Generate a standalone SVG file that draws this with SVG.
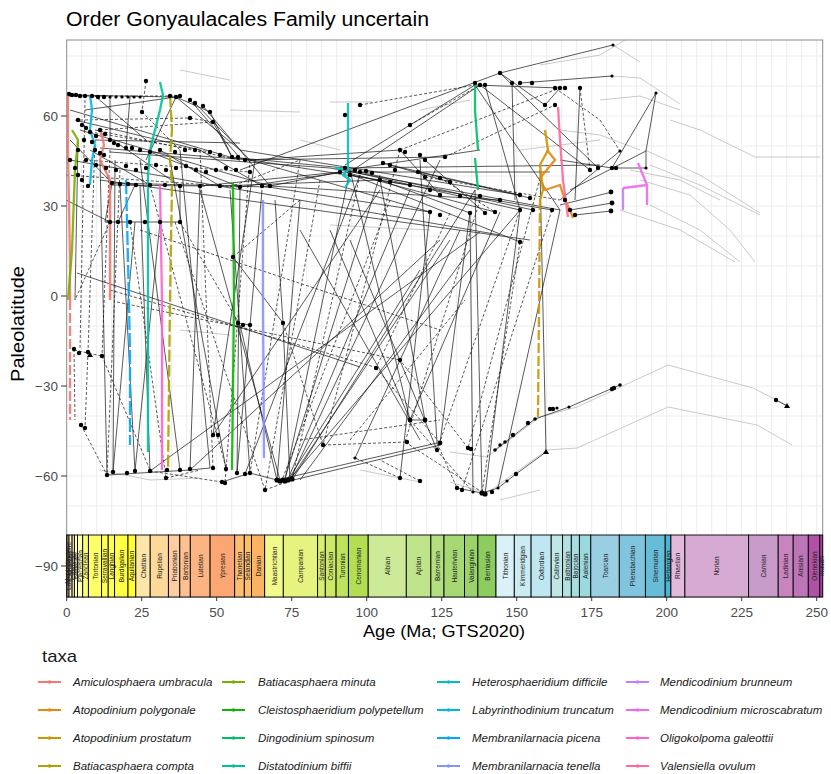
<svg xmlns="http://www.w3.org/2000/svg" width="831" height="774" viewBox="0 0 831 774">
<style>
text{font-family:"Liberation Sans",Arial,sans-serif}
.grid line{stroke:#ebebeb;stroke-width:0.9}
.s{fill:none;stroke:#111;stroke-width:0.85;stroke-opacity:0.82}
.d{fill:none;stroke:#111;stroke-width:0.85;stroke-opacity:0.82;stroke-dasharray:3 2}
.g{fill:none;stroke:#bdbdbd;stroke-width:0.8}
.pt circle{fill:#000}
.tx{fill:none;stroke-width:2.3;stroke-linejoin:round;stroke-opacity:0.9}
.st rect{stroke:#000;stroke-width:0.9}
.st text{font-size:6.5px;fill:#222;text-anchor:middle;dominant-baseline:central}
.ax{font-size:13.5px;fill:#4d4d4d}
.leg text{font-size:11.5px;font-style:italic;fill:#1a1a1a}
.leg line{stroke-width:2}
</style>
<rect width="831" height="774" fill="#fff"/>
<text x="66" y="26" font-size="20" textLength="363" lengthAdjust="spacingAndGlyphs" fill="#000">Order Gonyaulacales Family uncertain</text>

<g id="grid" class="grid">
<line x1="66.7" y1="56" x2="822.7" y2="56"/><line x1="66.7" y1="86" x2="822.7" y2="86"/><line x1="66.7" y1="116" x2="822.7" y2="116"/><line x1="66.7" y1="146" x2="822.7" y2="146"/><line x1="66.7" y1="176" x2="822.7" y2="176"/><line x1="66.7" y1="206" x2="822.7" y2="206"/><line x1="66.7" y1="236" x2="822.7" y2="236"/><line x1="66.7" y1="266" x2="822.7" y2="266"/><line x1="66.7" y1="296" x2="822.7" y2="296"/><line x1="66.7" y1="326" x2="822.7" y2="326"/><line x1="66.7" y1="356" x2="822.7" y2="356"/><line x1="66.7" y1="386" x2="822.7" y2="386"/><line x1="66.7" y1="416" x2="822.7" y2="416"/><line x1="66.7" y1="446" x2="822.7" y2="446"/><line x1="66.7" y1="476" x2="822.7" y2="476"/><line x1="66.7" y1="506" x2="822.7" y2="506"/>
<line x1="81.7" y1="40" x2="81.7" y2="535"/><line x1="96.7" y1="40" x2="96.7" y2="535"/><line x1="111.7" y1="40" x2="111.7" y2="535"/><line x1="126.7" y1="40" x2="126.7" y2="535"/><line x1="141.7" y1="40" x2="141.7" y2="535"/><line x1="156.7" y1="40" x2="156.7" y2="535"/><line x1="171.7" y1="40" x2="171.7" y2="535"/><line x1="186.7" y1="40" x2="186.7" y2="535"/><line x1="201.7" y1="40" x2="201.7" y2="535"/><line x1="216.7" y1="40" x2="216.7" y2="535"/><line x1="231.7" y1="40" x2="231.7" y2="535"/><line x1="246.7" y1="40" x2="246.7" y2="535"/><line x1="261.7" y1="40" x2="261.7" y2="535"/><line x1="276.7" y1="40" x2="276.7" y2="535"/><line x1="291.7" y1="40" x2="291.7" y2="535"/><line x1="306.7" y1="40" x2="306.7" y2="535"/><line x1="321.7" y1="40" x2="321.7" y2="535"/><line x1="336.7" y1="40" x2="336.7" y2="535"/><line x1="351.7" y1="40" x2="351.7" y2="535"/><line x1="366.7" y1="40" x2="366.7" y2="535"/><line x1="381.7" y1="40" x2="381.7" y2="535"/><line x1="396.7" y1="40" x2="396.7" y2="535"/><line x1="411.7" y1="40" x2="411.7" y2="535"/><line x1="426.7" y1="40" x2="426.7" y2="535"/><line x1="441.7" y1="40" x2="441.7" y2="535"/><line x1="456.7" y1="40" x2="456.7" y2="535"/><line x1="471.7" y1="40" x2="471.7" y2="535"/><line x1="486.7" y1="40" x2="486.7" y2="535"/><line x1="501.7" y1="40" x2="501.7" y2="535"/><line x1="516.7" y1="40" x2="516.7" y2="535"/><line x1="531.7" y1="40" x2="531.7" y2="535"/><line x1="546.7" y1="40" x2="546.7" y2="535"/><line x1="561.7" y1="40" x2="561.7" y2="535"/><line x1="576.7" y1="40" x2="576.7" y2="535"/><line x1="591.7" y1="40" x2="591.7" y2="535"/><line x1="606.7" y1="40" x2="606.7" y2="535"/><line x1="621.7" y1="40" x2="621.7" y2="535"/><line x1="636.7" y1="40" x2="636.7" y2="535"/><line x1="651.7" y1="40" x2="651.7" y2="535"/><line x1="666.7" y1="40" x2="666.7" y2="535"/><line x1="681.7" y1="40" x2="681.7" y2="535"/><line x1="696.7" y1="40" x2="696.7" y2="535"/><line x1="711.7" y1="40" x2="711.7" y2="535"/><line x1="726.7" y1="40" x2="726.7" y2="535"/><line x1="741.7" y1="40" x2="741.7" y2="535"/><line x1="756.7" y1="40" x2="756.7" y2="535"/><line x1="771.7" y1="40" x2="771.7" y2="535"/><line x1="786.7" y1="40" x2="786.7" y2="535"/><line x1="801.7" y1="40" x2="801.7" y2="535"/><line x1="816.7" y1="40" x2="816.7" y2="535"/>
</g>

<g id="trajectories">
<path class="g" d="M613 45 L640 62 M612 76 L640 78 L680 104 M670 120 L700 130 L755 157 L820 157 M645 150 L700 175 L760 213 M650 165 L700 185 L760 215 M640 180 L690 195 L730 230 L755 262 M650 205 L700 230 L740 262 M620 210 L680 230 L735 262 M560 130 L600 135 L640 150 M630 170 L680 180 L720 200 M450 452 L487 457 L540 417 L577 407 L668 365 L753 388 L790 407 M450 482 L487 493 L547 450 L577 448 L668 407 L757 425 L792 445 M330 225 L430 230 M330 102 L372 102 M230 110 L300 112 M540 65 L600 55 L625 40 M600 100 L640 96 L680 110 M420 110 L470 100 M180 70 L230 80 M300 140 L340 150 M100 470 L150 480 L200 478 M360 470 L420 482 M500 500 L540 490 M180 330 L230 335 M520 150 L600 140"/>
</g>

<g id="connectors">
<path class="s" d="M68 95 L176 97 M68 96 L100 96 M95 140 L240 143 M100 148 L250 160 M110 152 L330 168 M112 183 L268 187 M112 185 L205 186 M105 222 L182 222 M176 97 L240 150 M176 97 L210 112 L232 157 M190 100 L240 158 M195 103 L250 160 M203 106 L270 186 M176 97 L146 160 M213 122 L232 157 M240 158 L345 168 M240 150 L520 195 M250 160 L430 212 M270 186 L340 172 M330 168 L560 210 M345 170 L520 210 M345 172 L495 212 M345 172 L550 172 M345 170 L480 150 M240 170 L500 73 M500 73 L613 45 M475 85 L345 165 M480 85 L350 172 M475 85 L560 88 M500 73 L545 105 M512 83 L515 200 M580 88 L575 200 M545 105 L560 88 M560 200 L620 151 M570 190 L646 151 M656 93 L646 151 M646 151 L646 168 M560 205 L612 192 M570 210 L612 203 M575 215 L611 211 M612 168 L646 168 M560 160 L612 168 M612 168 L656 93 M520 83 L612 76
M70 110 L240 160 M75 120 L200 150 M80 130 L270 186 M85 110 L176 97 M95 96 L146 140 M110 97 L110 140 M130 97 L126 148 M70 140 L112 183 M90 150 L150 185 M120 145 L180 186 M150 152 L240 187 M200 150 L262 186 M160 150 L220 186 M66 200 L110 222 M112 183 L105 222 M180 186 L180 222 M135 185 L118 222 M240 187 L345 172 M262 186 L430 212 M270 186 L500 200 M220 186 L380 180 M200 186 L340 172 M250 160 L400 150 M245 160 L445 157 M232 157 L410 185 M345 168 L600 165 M350 175 L552 210 M360 172 L533 210 M380 180 L470 213 M400 150 L440 195 M425 160 L485 213
M475 85 L560 210 M480 85 L590 170 M500 73 L598 168 M485 85 L520 210 M345 172 L520 242 M383 163 L450 182 M390 165 L520 195 M418 172 L530 198
M78 140 L75 300 M100 160 L107 475 M115 160 L113 472 M120 185 L135 471 M140 185 L150 471 M180 150 L210 468 M200 186 L190 470 M170 160 L226 469 M140 160 L180 470 M230 190 L250 473 M255 160 L213 435 M262 190 L237 473 M275 200 L283 323 M283 323 L290 480 M300 200 L277 480 M350 170 L285 480 M380 175 L285 478 M410 190 L288 479 M440 160 L290 480 M475 190 L292 480 M520 210 L290 479 M277 480 L240 325 M280 480 L200 190 M410 420 L350 170 M425 420 L380 180 M437 443 L420 160 M440 443 L470 212 M410 420 L500 212 M400 478 L430 212 M482 493 L475 190 M485 494 L520 210 M473 492 L470 213 M498 488 L560 210 M277 480 L437 443 M285 482 L440 445 M290 480 L450 240 M288 480 L420 270 M77 273 L360 367 M70 160 L500 235 M100 180 L530 240 M300 230 L420 440 M330 230 L410 420 M350 240 L437 450 M460 230 L355 458 M470 250 L300 480 M150 471 L480 232 M190 470 L440 240 M213 435 L380 190 M245 474 L360 175 M113 472 L135 222 M135 471 L160 222 M237 473 L240 187
M457 488 L482 493 L498 488 L516 474 L546 452 M495 450 L535 419 L569 407 L620 385 M546 452 L540 170 M776 400 L787 406 M107 475 L190 470 L210 468 M222 482 L250 473 L277 480 M238 323 L250 325 M410 420 L425 420 M283 323 L233 257"/>
<path class="d" d="M95 96 L175 96 M146 81 L142 112 M142 112 L180 150 M95 130 L240 160 M85 100 L80 350 M95 140 L88 352 M110 150 L102 356 M120 170 L107 475 M88 352 L85 428 M81 425 L107 475 M74 349 L75 420 M150 471 L222 482 M166 478 L200 470 M200 150 L213 468 M250 160 L225 483 M300 160 L250 473 M320 180 L265 490 M360 175 L292 480 M390 200 L282 480 M400 150 L323 445 M450 213 L376 368 M480 200 L405 442 M520 210 L437 450 M520 242 L482 493 M552 210 L462 490 M117 302 L400 360 M110 290 L378 368 M140 230 L440 330 M600 120 L620 151 M580 88 L590 170 M233 257 L300 200 M74 350 L102 356 M102 356 L150 470 M410 125 L480 85 M360 105 L475 85 M300 440 L440 420 M350 440 L465 300 M400 478 L355 458 M420 481 L380 460 M437 443 L457 488 M410 420 L473 492 M405 442 L485 494 M323 445 L407 442 M265 490 L292 480 M555 88 L600 120 M190 118 L213 122 M110 222 L75 300 M180 222 L240 325 M130 222 L166 478 M540 178 L468 448 M468 448 L400 360 M376 368 L440 443 M283 323 L323 445 M80 120 L190 118 M90 132 L210 152 M100 130 L213 122 M85 160 L250 172 M66 175 L240 187 M150 185 L226 468 M175 222 L265 490 M230 187 L300 160 M400 150 L560 88 M445 157 L555 105 M425 177 L560 200 M440 178 L495 212"/>
</g>

<g id="taxa-lines">
<path class="tx" stroke="#F8766D" d="M68 92 L68 150 L70 260 L70 300"/>
<path class="tx" stroke="#F8766D" stroke-dasharray="10 3" d="M70 300 L70 420"/>
<path class="tx" stroke="#F8766D" d="M100 128 L104 145 L100 160 L110 180 L110 300"/>
<path class="tx" stroke="#E68613" d="M547 150 L555 160 L540 178 L545 190 L560 185 L565 200 L570 210 L573 218"/>
<path class="tx" stroke="#CD9600" d="M545 130 L548 150 L540 165 L543 190 L540 200"/>
<path class="tx" stroke="#CD9600" stroke-dasharray="10 3" d="M540 200 L538 417"/>
<path class="tx" stroke="#ABA300" d="M170 95 L172 130 L170 160 L172 185 L170 300 L168 470" stroke-dasharray="12 3"/>
<path class="tx" stroke="#7CAE00" d="M72 130 L78 140 L75 170 L72 250 L68 300"/>
<path class="tx" stroke="#0CB702" d="M233 183 L234 300 L232 470"/>
<path class="tx" stroke="#00BE67" d="M475 83 L475 110 L478 150 M475 158 L478 190"/>
<path class="tx" stroke="#00C19A" d="M160 82 L163 95 L160 110 L155 130 L150 150 L148 175 L148 230 L148 452"/>
<path class="tx" stroke="#00BFC4" d="M348 103 L348 170 L343 175 L350 180 L345 188 M335 168 L348 170"/>
<path class="tx" stroke="#00B8E7" d="M90 95 L92 110 L90 130 L95 145 L92 160 L90 185"/>
<path class="tx" stroke="#00A9FF" d="M126 180 L128 260 L130 350 L130 445" stroke-dasharray="14 3"/>
<path class="tx" stroke="#8494FF" d="M263 200 L263 300 L264 458"/>
<path class="tx" stroke="#C77CFF" d="M623 188 L623 210"/>
<path class="tx" stroke="#ED68ED" d="M638 163 L647 185 L647 205 M623 188 L647 185"/>
<path class="tx" stroke="#FF61CC" d="M160 185 L162 300 L162 470"/>
<path class="tx" stroke="#FF68A1" d="M558 107 L560 140 L563 180 L568 217"/>
</g>

<g id="points" class="pt">
<circle cx="69" cy="94" r="2.2"/><circle cx="72" cy="95" r="2.2"/><circle cx="76" cy="95" r="2.2"/><circle cx="80" cy="96" r="2.2"/><circle cx="85" cy="96" r="2.2"/><circle cx="92" cy="96" r="2.2"/><circle cx="98" cy="97" r="2.2"/><circle cx="104" cy="97" r="2.2"/><circle cx="110" cy="97" r="1.6"/><circle cx="116" cy="97" r="1.6"/><circle cx="122" cy="97" r="1.6"/><circle cx="128" cy="97" r="1.6"/><circle cx="134" cy="97" r="1.6"/><circle cx="140" cy="97" r="1.6"/><circle cx="146" cy="81" r="2.2"/><circle cx="170" cy="96" r="2.2"/><circle cx="176" cy="97" r="2.2"/><circle cx="180" cy="96" r="2.2"/>
<circle cx="190" cy="100" r="2.2"/><circle cx="195" cy="103" r="2.2"/><circle cx="203" cy="106" r="2.2"/><circle cx="210" cy="112" r="2.2"/><circle cx="142" cy="112" r="2.2"/><circle cx="213" cy="122" r="2.2"/><circle cx="190" cy="118" r="2.2"/>
<circle cx="78" cy="120" r="2.2"/><circle cx="82" cy="125" r="2.2"/><circle cx="86" cy="128" r="2.2"/><circle cx="90" cy="132" r="2.2"/><circle cx="96" cy="136" r="2.2"/><circle cx="100" cy="130" r="2.2"/><circle cx="105" cy="134" r="2.2"/><circle cx="84" cy="140" r="2.2"/><circle cx="92" cy="142" r="2.2"/><circle cx="78" cy="150" r="2.2"/><circle cx="86" cy="160" r="2.2"/><circle cx="96" cy="165" r="2.2"/><circle cx="106" cy="168" r="2.2"/><circle cx="116" cy="170" r="2.2"/><circle cx="126" cy="166" r="2.2"/><circle cx="136" cy="170" r="2.2"/><circle cx="146" cy="168" r="2.2"/><circle cx="156" cy="165" r="2.2"/><circle cx="166" cy="170" r="2.2"/><circle cx="176" cy="168" r="2.2"/><circle cx="186" cy="166" r="2.2"/><circle cx="196" cy="170" r="2.2"/><circle cx="206" cy="172" r="2.2"/><circle cx="216" cy="170" r="2.2"/><circle cx="226" cy="168" r="2.2"/><circle cx="236" cy="170" r="2.2"/><circle cx="250" cy="172" r="2.2"/>
<circle cx="110" cy="140" r="2.2"/><circle cx="114" cy="143" r="2.2"/><circle cx="118" cy="145" r="2.2"/><circle cx="126" cy="148" r="2.2"/><circle cx="132" cy="148" r="2.2"/><circle cx="140" cy="150" r="2.2"/><circle cx="150" cy="152" r="2.2"/><circle cx="160" cy="150" r="2.2"/><circle cx="175" cy="152" r="2.2"/><circle cx="185" cy="150" r="2.2"/><circle cx="195" cy="150" r="2.2"/><circle cx="210" cy="152" r="2.2"/><circle cx="220" cy="155" r="2.2"/><circle cx="232" cy="157" r="2.2"/><circle cx="238" cy="157" r="2.2"/><circle cx="245" cy="160" r="2.2"/><circle cx="95" cy="150" r="2.2"/><circle cx="100" cy="153" r="2.2"/><circle cx="104" cy="155" r="2.2"/>
<circle cx="112" cy="183" r="2.2"/><circle cx="120" cy="184" r="2.2"/><circle cx="128" cy="184" r="2.2"/><circle cx="136" cy="185" r="2.2"/><circle cx="150" cy="185" r="2.2"/><circle cx="165" cy="185" r="2.2"/><circle cx="180" cy="186" r="2.2"/><circle cx="200" cy="186" r="2.2"/><circle cx="220" cy="186" r="2.2"/><circle cx="240" cy="187" r="2.2"/><circle cx="262" cy="186" r="2.2"/><circle cx="270" cy="186" r="2.2"/>
<circle cx="110" cy="222" r="2.2"/><circle cx="118" cy="222" r="2.2"/><circle cx="130" cy="222" r="2.2"/><circle cx="145" cy="222" r="2.2"/><circle cx="160" cy="222" r="2.2"/><circle cx="180" cy="222" r="2.2"/><circle cx="233" cy="257" r="2.2"/>
<circle cx="70" cy="160" r="2.2"/><circle cx="75" cy="168" r="2.2"/><circle cx="78" cy="175" r="2.2"/><circle cx="82" cy="180" r="2.2"/><circle cx="88" cy="186" r="2.2"/>
<circle cx="345" cy="168" r="2.2"/><circle cx="340" cy="172" r="2.2"/><circle cx="350" cy="175" r="2.2"/><circle cx="355" cy="170" r="2.2"/><circle cx="360" cy="172" r="2.2"/><circle cx="366" cy="171" r="2.2"/><circle cx="372" cy="173" r="2.2"/>
<circle cx="383" cy="163" r="2.2"/><circle cx="390" cy="165" r="2.2"/><circle cx="395" cy="170" r="2.2"/><circle cx="418" cy="172" r="2.2"/><circle cx="425" cy="177" r="2.2"/><circle cx="440" cy="178" r="2.2"/><circle cx="450" cy="182" r="2.2"/><circle cx="520" cy="195" r="2.2"/><circle cx="530" cy="198" r="2.2"/>
<circle cx="400" cy="150" r="2.2"/><circle cx="405" cy="152" r="2.2"/><circle cx="420" cy="155" r="2.2"/><circle cx="425" cy="160" r="2.2"/><circle cx="445" cy="157" r="2.2"/>
<circle cx="380" cy="180" r="2.2"/><circle cx="390" cy="182" r="2.2"/><circle cx="410" cy="185" r="2.2"/><circle cx="430" cy="190" r="2.2"/><circle cx="440" cy="195" r="2.2"/><circle cx="460" cy="196" r="2.2"/><circle cx="480" cy="196" r="2.2"/><circle cx="500" cy="200" r="2.2"/>
<circle cx="430" cy="212" r="2.2"/><circle cx="440" cy="215" r="2.2"/><circle cx="470" cy="213" r="2.2"/><circle cx="485" cy="213" r="2.2"/><circle cx="495" cy="212" r="2.2"/><circle cx="520" cy="210" r="2.2"/><circle cx="533" cy="210" r="2.2"/><circle cx="552" cy="210" r="2.2"/>
<circle cx="520" cy="242" r="2.2"/><circle cx="410" cy="125" r="2.2"/><circle cx="360" cy="105" r="2.2"/><circle cx="345" cy="115" r="2.2"/>
<circle cx="475" cy="83" r="2.2"/><circle cx="480" cy="85" r="2.2"/><circle cx="485" cy="85" r="2.2"/><circle cx="500" cy="73" r="2.2"/><circle cx="512" cy="83" r="2.2"/><circle cx="520" cy="83" r="2.2"/><circle cx="532" cy="83" r="2.2"/><circle cx="555" cy="88" r="2.2"/><circle cx="560" cy="88" r="2.2"/><circle cx="565" cy="88" r="2.2"/><circle cx="580" cy="88" r="2.2"/><circle cx="545" cy="105" r="2.2"/><circle cx="555" cy="105" r="2.2"/>
<circle cx="613" cy="45" r="1.6"/><circle cx="612" cy="76" r="1.6"/><circle cx="656" cy="93" r="1.6"/><circle cx="620" cy="151" r="1.6"/><circle cx="612" cy="168" r="2.2"/><circle cx="616" cy="168" r="2.2"/><circle cx="646" cy="168" r="1.6"/><circle cx="611" cy="192" r="2.4"/><circle cx="612" cy="203" r="2.4"/><circle cx="611" cy="211" r="2.4"/><circle cx="590" cy="170" r="2.2"/><circle cx="598" cy="168" r="2.2"/><circle cx="575" cy="215" r="2.2"/><circle cx="570" cy="210" r="2.2"/><circle cx="565" cy="200" r="2.2"/>
<circle cx="74" cy="349" r="2.2"/><circle cx="79" cy="353" r="2.2"/><circle cx="88" cy="352" r="2.2"/><circle cx="102" cy="356" r="2.2"/><circle cx="81" cy="425" r="2.2"/><circle cx="85" cy="428" r="2.2"/><circle cx="107" cy="475" r="2.2"/><circle cx="113" cy="472" r="2.2"/><circle cx="127" cy="473" r="2.2"/><circle cx="135" cy="471" r="2.2"/><circle cx="150" cy="471" r="2.2"/><circle cx="167" cy="470" r="2.2"/><circle cx="180" cy="470" r="2.2"/><circle cx="190" cy="469" r="2.2"/><circle cx="166" cy="478" r="2.2"/><circle cx="213" cy="435" r="2.2"/><circle cx="218" cy="435" r="2.2"/><circle cx="213" cy="468" r="2.2"/><circle cx="226" cy="469" r="2.2"/><circle cx="222" cy="482" r="2.2"/><circle cx="225" cy="483" r="2.2"/><circle cx="237" cy="473" r="2.2"/><circle cx="245" cy="474" r="2.2"/><circle cx="250" cy="473" r="2.2"/><circle cx="265" cy="490" r="2.2"/>
<circle cx="277" cy="480" r="2.6"/><circle cx="280" cy="481" r="2.6"/><circle cx="283" cy="480" r="2.6"/><circle cx="285" cy="481" r="2.6"/><circle cx="288" cy="480" r="2.6"/><circle cx="292" cy="479" r="2.6"/><circle cx="283" cy="323" r="2.2"/><circle cx="238" cy="323" r="2.2"/><circle cx="243" cy="325" r="2.2"/><circle cx="250" cy="325" r="2.2"/><circle cx="376" cy="368" r="2.2"/><circle cx="400" cy="360" r="2.2"/><circle cx="410" cy="420" r="2.4"/><circle cx="425" cy="420" r="2.4"/><circle cx="407" cy="442" r="2.2"/><circle cx="440" cy="443" r="2.4"/><circle cx="437" cy="450" r="2.2"/><circle cx="323" cy="445" r="2.2"/><circle cx="355" cy="458" r="1.6"/><circle cx="400" cy="478" r="2.2"/><circle cx="420" cy="481" r="2.2"/>
<circle cx="457" cy="488" r="2.2"/><circle cx="462" cy="490" r="2.2"/><circle cx="473" cy="492" r="1.6"/><circle cx="482" cy="493" r="2.6"/><circle cx="485" cy="494" r="2.6"/><circle cx="492" cy="492" r="2.2"/><circle cx="498" cy="488" r="1.6"/><circle cx="507" cy="481" r="1.6"/><circle cx="516" cy="474" r="2.2"/>
<circle cx="495" cy="450" r="1.8"/><circle cx="500" cy="445" r="1.8"/><circle cx="505" cy="442" r="1.8"/><circle cx="513" cy="435" r="2.2"/><circle cx="528" cy="423" r="2.2"/><circle cx="535" cy="419" r="1.8"/><circle cx="550" cy="409" r="2.2"/><circle cx="553" cy="409" r="2.2"/><circle cx="557" cy="408" r="1.6"/><circle cx="569" cy="407" r="1.6"/><circle cx="612" cy="389" r="2.2"/><circle cx="614" cy="388" r="2.2"/><circle cx="620" cy="385" r="1.8"/><circle cx="776" cy="400" r="2.2"/><circle cx="468" cy="448" r="2.2"/><circle cx="471" cy="449" r="2.2"/>
<path d="M546 449 L549 454 L543 454 Z M787 403 L790 408 L784 408 Z M90 352 L93 357 L87 357 Z"/>
</g>

<rect x="66.7" y="40" width="756" height="557" fill="none" stroke="#8a8a8a" stroke-width="1"/>

<g id="timescale" class="st">
<rect x="66.7" y="535" width="0.4" height="62" fill="#FEF2E0"/><rect x="67.1" y="535" width="1.9" height="62" fill="#FFF2D3"/><rect x="69" y="535" width="3.1" height="62" fill="#FFF2C7"/><rect x="72.1" y="535" width="2.3" height="62" fill="#FFEDB3"/><rect x="74.4" y="535" width="3.1" height="62" fill="#FFFFBF"/><rect x="77.5" y="535" width="5.2" height="62" fill="#FFFFB3"/><rect x="82.7" y="535" width="5.7" height="62" fill="#FFFF73"/><rect x="88.4" y="535" width="13.2" height="62" fill="#FFFF66"/><rect x="101.6" y="535" width="6.6" height="62" fill="#FFFF59"/><rect x="108.2" y="535" width="6.4" height="62" fill="#FFFF4D"/><rect x="114.6" y="535" width="13.4" height="62" fill="#FFFF41"/><rect x="128" y="535" width="7.8" height="62" fill="#FFFF33"/>
<rect x="135.8" y="535" width="14.4" height="62" fill="#FEE6AA"/><rect x="150.2" y="535" width="18.2" height="62" fill="#FED99A"/><rect x="168.4" y="535" width="11.4" height="62" fill="#FDCDA1"/><rect x="179.8" y="535" width="10.5" height="62" fill="#FDC091"/><rect x="190.3" y="535" width="19.8" height="62" fill="#FCB482"/><rect x="210.1" y="535" width="24.6" height="62" fill="#FCA773"/><rect x="234.7" y="535" width="9.6" height="62" fill="#FDBF6F"/><rect x="244.3" y="535" width="7.2" height="62" fill="#FEBF65"/><rect x="251.5" y="535" width="13.2" height="62" fill="#FDB462"/>
<rect x="264.7" y="535" width="18.6" height="62" fill="#F2FA8C"/><rect x="283.3" y="535" width="34.3" height="62" fill="#E6F47F"/><rect x="317.6" y="535" width="7.7" height="62" fill="#D9EF74"/><rect x="325.3" y="535" width="10.8" height="62" fill="#CCE968"/><rect x="336.1" y="535" width="12.3" height="62" fill="#BFE35D"/><rect x="348.4" y="535" width="19.8" height="62" fill="#B3DE53"/><rect x="368.2" y="535" width="38.1" height="62" fill="#CCEA97"/><rect x="406.3" y="535" width="24.6" height="62" fill="#BFE48A"/><rect x="430.9" y="535" width="13.1" height="62" fill="#B3DF7F"/><rect x="444" y="535" width="20.5" height="62" fill="#A6D975"/><rect x="464.5" y="535" width="13.4" height="62" fill="#99D36A"/><rect x="477.9" y="535" width="18.1" height="62" fill="#8CCD60"/>
<rect x="496" y="535" width="18.3" height="62" fill="#D9F1F7"/><rect x="514.3" y="535" width="16.8" height="62" fill="#CCECF4"/><rect x="531.1" y="535" width="20.1" height="62" fill="#BFE7F1"/><rect x="551.2" y="535" width="11.4" height="62" fill="#BFE7E5"/><rect x="562.6" y="535" width="8.7" height="62" fill="#B3E2E3"/><rect x="571.3" y="535" width="8.1" height="62" fill="#A6DDE0"/><rect x="579.4" y="535" width="11.4" height="62" fill="#9AD9DD"/><rect x="590.8" y="535" width="28.5" height="62" fill="#99CEE3"/><rect x="619.3" y="535" width="26.1" height="62" fill="#80C5DD"/><rect x="645.4" y="535" width="19.8" height="62" fill="#67BCD8"/><rect x="665.2" y="535" width="5.7" height="62" fill="#4EB3D3"/>
<rect x="670.9" y="535" width="14" height="62" fill="#E3B9DB"/><rect x="684.9" y="535" width="63.7" height="62" fill="#D6AAD3"/><rect x="748.6" y="535" width="29.6" height="62" fill="#C99BCB"/><rect x="778.2" y="535" width="15" height="62" fill="#C983BF"/><rect x="793.2" y="535" width="15.1" height="62" fill="#BC75B7"/><rect x="808.3" y="535" width="11.5" height="62" fill="#B051A5"/><rect x="819.8" y="535" width="2.9" height="62" fill="#A4469F"/>
<text transform="rotate(-90 67 566)" x="67" y="566">Meghalayan</text><text transform="rotate(-90 68 566)" x="68" y="566">Late Pleistocene</text><text transform="rotate(-90 70.5 566)" x="70.5" y="566">Chibanian</text><text transform="rotate(-90 73.2 566)" x="73.2" y="566">Calabrian</text><text transform="rotate(-90 76 566)" x="76" y="566">Gelasian</text><text transform="rotate(-90 80.1 566)" x="80.1" y="566">Piacenzian</text><text transform="rotate(-90 85.5 566)" x="85.5" y="566">Zanclean</text><text transform="rotate(-90 95 566)" x="95" y="566">Tortonian</text><text transform="rotate(-90 104.9 566)" x="104.9" y="566">Serravallian</text><text transform="rotate(-90 111.4 566)" x="111.4" y="566">Langhian</text><text transform="rotate(-90 121.3 566)" x="121.3" y="566">Burdigalian</text><text transform="rotate(-90 131.9 566)" x="131.9" y="566">Aquitanian</text>
<text transform="rotate(-90 143 566)" x="143" y="566">Chattian</text><text transform="rotate(-90 159.3 566)" x="159.3" y="566">Rupelian</text><text transform="rotate(-90 174.1 566)" x="174.1" y="566">Priabonian</text><text transform="rotate(-90 185 566)" x="185" y="566">Bartonian</text><text transform="rotate(-90 200.2 566)" x="200.2" y="566">Lutetian</text><text transform="rotate(-90 222.4 566)" x="222.4" y="566">Ypresian</text><text transform="rotate(-90 239.5 566)" x="239.5" y="566">Thanetian</text><text transform="rotate(-90 247.9 566)" x="247.9" y="566">Selandian</text><text transform="rotate(-90 258.1 566)" x="258.1" y="566">Danian</text>
<text transform="rotate(-90 274 566)" x="274" y="566">Maastrichtian</text><text transform="rotate(-90 300.4 566)" x="300.4" y="566">Campanian</text><text transform="rotate(-90 321.4 566)" x="321.4" y="566">Santonian</text><text transform="rotate(-90 330.7 566)" x="330.7" y="566">Coniacian</text><text transform="rotate(-90 342.2 566)" x="342.2" y="566">Turonian</text><text transform="rotate(-90 358.3 566)" x="358.3" y="566">Cenomanian</text><text transform="rotate(-90 387.2 566)" x="387.2" y="566">Albian</text><text transform="rotate(-90 418.6 566)" x="418.6" y="566">Aptian</text><text transform="rotate(-90 437.4 566)" x="437.4" y="566">Barremian</text><text transform="rotate(-90 454.2 566)" x="454.2" y="566">Hauterivian</text><text transform="rotate(-90 471.2 566)" x="471.2" y="566">Valanginian</text><text transform="rotate(-90 487 566)" x="487" y="566">Berriasian</text>
<text transform="rotate(-90 505.1 566)" x="505.1" y="566">Tithonian</text><text transform="rotate(-90 522.7 566)" x="522.7" y="566">Kimmeridgian</text><text transform="rotate(-90 541.1 566)" x="541.1" y="566">Oxfordian</text><text transform="rotate(-90 556.9 566)" x="556.9" y="566">Callovian</text><text transform="rotate(-90 567 566)" x="567" y="566">Bathonian</text><text transform="rotate(-90 575.3 566)" x="575.3" y="566">Bajocian</text><text transform="rotate(-90 585.1 566)" x="585.1" y="566">Aalenian</text><text transform="rotate(-90 605 566)" x="605" y="566">Toarcian</text><text transform="rotate(-90 632.3 566)" x="632.3" y="566">Pliensbachian</text><text transform="rotate(-90 655.3 566)" x="655.3" y="566">Sinemurian</text><text transform="rotate(-90 668 566)" x="668" y="566">Hettangian</text>
<text transform="rotate(-90 677.9 566)" x="677.9" y="566">Rhaetian</text><text transform="rotate(-90 716.7 566)" x="716.7" y="566">Norian</text><text transform="rotate(-90 763.4 566)" x="763.4" y="566">Carnian</text><text transform="rotate(-90 785.7 566)" x="785.7" y="566">Ladinian</text><text transform="rotate(-90 800.7 566)" x="800.7" y="566">Anisian</text><text transform="rotate(-90 814 566)" x="814" y="566">Olenekian</text><text transform="rotate(-90 821.2 566)" x="821.2" y="566">Induan</text>
</g>

<g id="axes">
<path d="M61 116 H66.7 M61 206 H66.7 M61 296 H66.7 M61 386 H66.7 M61 476 H66.7 M61 566 H66.7 M66.7 597 V601 M141.7 597 V601 M216.7 597 V601 M291.7 597 V601 M366.7 597 V601 M441.7 597 V601 M516.7 597 V601 M591.7 597 V601 M666.7 597 V601 M741.7 597 V601 M816.7 597 V601" stroke="#333" stroke-width="1"/>
<g class="ax" text-anchor="end">
<text x="58" y="121">60</text><text x="58" y="211">30</text><text x="58" y="301">0</text><text x="58" y="391">−30</text><text x="58" y="481">−60</text><text x="58" y="571">−90</text>
</g>
<g class="ax" text-anchor="middle">
<text x="66.7" y="617">0</text><text x="141.7" y="617">25</text><text x="216.7" y="617">50</text><text x="291.7" y="617">75</text><text x="366.7" y="617">100</text><text x="441.7" y="617">125</text><text x="516.7" y="617">150</text><text x="591.7" y="617">175</text><text x="666.7" y="617">200</text><text x="741.7" y="617">225</text><text x="816.7" y="617">250</text>
</g>
<text x="444" y="637" font-size="17" textLength="162" lengthAdjust="spacingAndGlyphs" text-anchor="middle" fill="#000">Age (Ma; GTS2020)</text>
<text transform="rotate(-90 24 324)" x="24" y="324" font-size="17.5" textLength="116" lengthAdjust="spacingAndGlyphs" text-anchor="middle" fill="#000">Paleolatitude</text>
</g>

<g id="legend" class="leg">
<text x="42" y="662" style="font-size:17px;font-style:normal" textLength="35" lengthAdjust="spacingAndGlyphs" fill="#000">taxa</text>
<line x1="38" y1="682" x2="61" y2="682" stroke="#F8766D"/><circle cx="49.5" cy="682" r="1.8" fill="#F8766D"/><text x="73" y="686">Amiculosphaera umbracula</text>
<line x1="38" y1="710" x2="61" y2="710" stroke="#E68613"/><circle cx="49.5" cy="710" r="1.8" fill="#E68613"/><text x="73" y="714">Atopodinium polygonale</text>
<line x1="38" y1="738" x2="61" y2="738" stroke="#CD9600"/><circle cx="49.5" cy="738" r="1.8" fill="#CD9600"/><text x="73" y="742">Atopodinium prostatum</text>
<line x1="38" y1="766" x2="61" y2="766" stroke="#ABA300"/><circle cx="49.5" cy="766" r="1.8" fill="#ABA300"/><text x="73" y="770">Batiacasphaera compta</text>
<line x1="222" y1="682" x2="245" y2="682" stroke="#7CAE00"/><circle cx="233.5" cy="682" r="1.8" fill="#7CAE00"/><text x="258" y="686">Batiacasphaera minuta</text>
<line x1="222" y1="710" x2="245" y2="710" stroke="#0CB702"/><circle cx="233.5" cy="710" r="1.8" fill="#0CB702"/><text x="258" y="714">Cleistosphaeridium polypetellum</text>
<line x1="222" y1="738" x2="245" y2="738" stroke="#00BE67"/><circle cx="233.5" cy="738" r="1.8" fill="#00BE67"/><text x="258" y="742">Dingodinium spinosum</text>
<line x1="222" y1="766" x2="245" y2="766" stroke="#00C19A"/><circle cx="233.5" cy="766" r="1.8" fill="#00C19A"/><text x="258" y="770">Distatodinium biffii</text>
<line x1="437" y1="682" x2="460" y2="682" stroke="#00BFC4"/><circle cx="448.5" cy="682" r="1.8" fill="#00BFC4"/><text x="472" y="686">Heterosphaeridium difficile</text>
<line x1="437" y1="710" x2="460" y2="710" stroke="#00B8E7"/><circle cx="448.5" cy="710" r="1.8" fill="#00B8E7"/><text x="472" y="714">Labyrinthodinium truncatum</text>
<line x1="437" y1="738" x2="460" y2="738" stroke="#00A9FF"/><circle cx="448.5" cy="738" r="1.8" fill="#00A9FF"/><text x="472" y="742">Membranilarnacia picena</text>
<line x1="437" y1="766" x2="460" y2="766" stroke="#8494FF"/><circle cx="448.5" cy="766" r="1.8" fill="#8494FF"/><text x="472" y="770">Membranilarnacia tenella</text>
<line x1="626" y1="682" x2="649" y2="682" stroke="#C77CFF"/><circle cx="637.5" cy="682" r="1.8" fill="#C77CFF"/><text x="660" y="686">Mendicodinium brunneum</text>
<line x1="626" y1="710" x2="649" y2="710" stroke="#ED68ED"/><circle cx="637.5" cy="710" r="1.8" fill="#ED68ED"/><text x="660" y="714">Mendicodinium microscabratum</text>
<line x1="626" y1="738" x2="649" y2="738" stroke="#FF61CC"/><circle cx="637.5" cy="738" r="1.8" fill="#FF61CC"/><text x="660" y="742">Oligokolpoma galeottii</text>
<line x1="626" y1="766" x2="649" y2="766" stroke="#FF68A1"/><circle cx="637.5" cy="766" r="1.8" fill="#FF68A1"/><text x="660" y="770">Valensiella ovulum</text>
</g>
</svg>
